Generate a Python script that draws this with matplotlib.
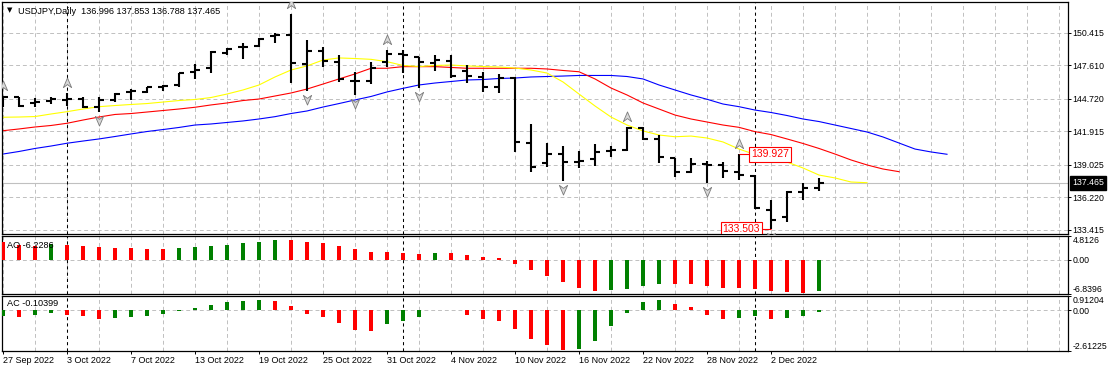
import numpy as np
import pandas as pd
import matplotlib
matplotlib.use('Agg')
import matplotlib.pyplot as plt
import matplotlib.transforms as mtransforms
from matplotlib.path import Path

plt.rcParams['font.family'] = ['Liberation Sans', 'DejaVu Sans']

symbol = 'USDJPY,Daily'

# daily OHLC, 27 Sep 2022 .. 7 Dec 2022
open_ = [144.70, 144.85, 144.36, 144.56, 144.64, 144.68, 144.04, 144.62, 145.33, 145.33,
         145.76, 145.91, 147.05, 147.35, 148.64, 149.16, 149.29, 150.16, 150.22, 147.69,
         148.86, 147.92, 146.25, 146.28, 147.86, 148.55, 148.30, 147.78, 148.00, 147.14,
         146.62, 145.76, 146.54, 140.94, 139.16, 139.94, 139.30, 139.51, 140.25, 140.31,
         142.23, 141.23, 139.59, 138.44, 139.10, 139.02, 138.44, 138.07, 135.14, 134.56,
         136.72, 136.996]
high = [144.99, 144.90, 144.76, 144.85, 145.19, 144.90, 144.85, 145.19, 145.54, 145.76,
        145.91, 146.97, 147.72, 148.86, 149.07, 149.50, 149.93, 150.36, 152.03, 149.79,
        149.21, 148.49, 147.05, 147.86, 148.92, 148.92, 148.35, 148.49, 148.49, 147.63,
        147.05, 146.86, 146.62, 142.55, 140.89, 140.65, 140.25, 140.80, 140.65, 142.26,
        142.26, 141.60, 139.59, 139.64, 139.36, 139.30, 139.927, 138.15, 136.00, 136.80,
        137.49, 137.853]
low = [144.04, 143.99, 144.04, 144.27, 144.10, 143.90, 143.56, 144.47, 144.62, 145.25,
       145.39, 145.71, 146.45, 146.97, 148.49, 148.17, 149.16, 149.55, 146.06, 145.42,
       147.49, 146.19, 145.05, 146.00, 147.49, 146.97, 145.65, 147.14, 146.54, 146.11,
       145.33, 145.19, 140.16, 138.44, 138.87, 137.66, 138.73, 138.93, 139.68, 140.25,
       141.17, 139.16, 138.01, 138.35, 137.49, 137.87, 137.72, 135.20, 133.503, 134.13,
       136.00, 136.788]
close = [144.85, 144.10, 144.44, 144.73, 144.70, 143.99, 144.62, 145.11, 145.39, 145.71,
         145.82, 146.92, 147.20, 148.78, 149.01, 149.21, 149.87, 150.22, 147.83, 148.86,
         147.98, 146.45, 146.25, 147.35, 148.58, 148.52, 147.92, 148.06, 146.68, 146.68,
         145.76, 146.54, 141.02, 138.87, 139.94, 139.30, 139.39, 140.16, 140.31, 142.23,
         141.23, 139.68, 138.44, 139.10, 139.04, 138.52, 138.15, 135.29, 134.28, 136.72,
         137.01, 137.465]

# alligator lines (already shifted forward, so they run past the last bar)
lips = [143.13, 143.15, 143.19, 143.41, 143.61, 143.84, 144.04, 144.14, 144.23, 144.31,
        144.44, 144.57, 144.66, 144.83, 145.13, 145.48, 145.91, 146.60, 147.20, 147.55,
        148.06, 148.24, 148.19, 148.12, 147.92, 147.59, 147.50, 147.59, 147.63, 147.55,
        147.50, 147.46, 147.37, 147.20, 146.94, 146.17, 145.13, 144.10, 143.15, 142.46,
        141.95, 141.60, 141.45, 141.51, 141.34, 141.00, 140.39, 139.92, 139.62, 139.27,
        138.76, 138.15, 137.90, 137.55, 137.49]
teeth = [141.97, 142.12, 142.29, 142.42, 142.61, 142.89, 143.15, 143.37, 143.45, 143.58,
         143.71, 143.84, 143.99, 144.19, 144.36, 144.57, 144.70, 144.96, 145.22, 145.56,
         145.99, 146.43, 146.86, 147.35, 147.35, 147.49, 147.49, 147.49, 147.42, 147.35,
         147.35, 147.35, 147.35, 147.35, 147.29, 147.16, 147.05, 146.43, 145.65, 145.05,
         144.36, 143.84, 143.32, 142.98, 142.72, 142.46, 142.26, 141.89, 141.64, 141.26,
         140.87, 140.44, 139.96, 139.45, 139.02, 138.67, 138.44]
jaw = [139.96, 140.18, 140.44, 140.65, 140.89, 141.08, 141.26, 141.47, 141.69, 141.90,
       142.07, 142.25, 142.46, 142.55, 142.68, 142.81, 142.98, 143.18, 143.45, 143.67,
       144.01, 144.31, 144.62, 144.92, 145.31, 145.62, 145.91, 146.08, 146.21, 146.34,
       146.38, 146.47, 146.51, 146.60, 146.64, 146.68, 146.73, 146.73, 146.73, 146.64,
       146.43, 145.91, 145.48, 145.05, 144.68, 144.27, 144.04, 143.75, 143.54, 143.28,
       142.98, 142.76, 142.46, 142.16, 141.86, 141.43, 140.91, 140.39, 140.14, 139.94]

fractal_up = [0, 4, 18, 24, 39, 46]
fractal_down = [6, 19, 22, 26, 35, 44, 48]

# bars carrying the price-label objects
label_high_bar = 46
label_low_bar = 48

ao = [3.53, 2.95, 2.85, 3.21, 3.10, 2.89, 2.69, 2.50, 2.31, 2.28,
      2.25, 2.35, 2.57, 2.89, 3.08, 3.40, 3.66, 4.04, 4.00, 3.66,
      3.47, 2.89, 2.12, 1.54, 1.50, 1.35, 1.15, 1.35, 1.30, 0.96,
      0.58, 0.38, -0.74, -1.94, -3.15, -4.45, -5.68, -6.29, -6.09, -5.88,
      -5.27, -4.86, -4.90, -4.92, -5.27, -5.68, -5.70, -5.88, -6.29, -6.45,
      -6.55, -6.2286]
ac = [-0.37, -0.44, -0.33, -0.20, -0.29, -0.37, -0.53, -0.50, -0.44, -0.40,
      -0.26, -0.05, 0.16, 0.36, 0.51, 0.57, 0.63, 0.56, 0.30, -0.26,
      -0.46, -0.79, -1.25, -1.32, -0.86, -0.66, -0.46, 0.02, 0.03, -0.33,
      -0.59, -0.72, -1.19, -1.84, -2.24, -2.55, -2.50, -1.95, -1.03, -0.15,
      0.55, 0.67, 0.43, 0.18, -0.31, -0.57, -0.50, -0.37, -0.57, -0.50,
      -0.37, -0.10399]

price_ticks = [133.415, 136.220, 139.025, 141.915, 144.720, 147.610, 150.415]
ao_scale = [-6.8396, 0.0, 4.8126]
ac_scale = [-2.61225, 0.0, 0.91204]

open_, high, low, close = map(np.array, (open_, high, low, close))
n = len(close)
idx = np.arange(n)
dates = pd.bdate_range('2022-09-27', periods=n)
month_starts = [i for i in range(1, n) if dates[i].month != dates[i - 1].month]

W, H = 1114, 372
GRID = '#c0c0c0'
RED, GREEN = '#ff0000', '#008000'
FS = 6.3


def px_rect(x0, y0, x1, y1):
    return [x0 / W, 1 - y1 / H, (x1 - x0) / W, (y1 - y0) / H]


fig = plt.figure(figsize=(W / 100, H / 100), dpi=100)
ax = fig.add_axes(px_rect(2, 2, 1068, 234))
ax_ao = fig.add_axes(px_rect(2, 236, 1068, 294))
ax_ac = fig.add_axes(px_rect(2, 296, 1068, 351))

for a in (ax, ax_ao, ax_ac):
    a.set_xlim(-0.0625, 66.5625)
    a.set_axisbelow(True)
    a.set_xticks(np.arange(0, 67, 2), minor=True)
    a.grid(which='minor', axis='x', color=GRID, ls=(0, (4, 3)), lw=0.7)
    a.grid(which='major', axis='y', color=GRID, ls=(0, (4, 3)), lw=0.7)
    a.tick_params(which='minor', length=0)
    a.yaxis.tick_right()
    a.tick_params(axis='y', length=2.2, width=0.7, pad=1, labelsize=FS)
    for s in a.spines.values():
        s.set_linewidth(0.9)
    for m in month_starts:
        a.axvline(m, color='black', ls=(0, (3, 3)), lw=0.75, zorder=1.5)
ax.set_xticks([])
ax_ao.set_xticks([])

# main price window
ax.set_ylim(133.07, 153.06)
ax.set_yticks(price_ticks, [f'{p:.3f}' for p in price_ticks])
ax.axhline(close[-1], color=GRID, lw=0.8, zorder=1)

ax.plot(np.arange(len(jaw)), jaw, color='#0000ff', lw=0.8, zorder=2)
ax.plot(np.arange(len(teeth)), teeth, color=RED, lw=0.8, zorder=2)
ax.plot(np.arange(len(lips)), lips, color='#ffff00', lw=0.8, zorder=2)

ax.vlines(idx, low, high, color='black', lw=1.5, zorder=3)
ax.hlines(open_, idx - 0.3, idx, color='black', lw=1.5, zorder=3)
ax.hlines(close, idx, idx + 0.3, color='black', lw=1.5, zorder=3)

up_path = Path([(0, 1), (0.75, -0.75), (0, -0.2), (-0.75, -0.75), (0, 1)],
               [Path.MOVETO, Path.LINETO, Path.LINETO, Path.LINETO, Path.CLOSEPOLY])
dn_path = Path([(0, -1), (0.75, 0.75), (0, 0.2), (-0.75, 0.75), (0, -1)],
               [Path.MOVETO, Path.LINETO, Path.LINETO, Path.LINETO, Path.CLOSEPOLY])
up_tr = ax.transData + mtransforms.ScaledTranslation(0, 0.10, fig.dpi_scale_trans)
dn_tr = ax.transData + mtransforms.ScaledTranslation(0, -0.08, fig.dpi_scale_trans)
ax.plot(fractal_up, high[fractal_up], ls='none', marker=up_path, ms=8,
        mfc='#d8d8d8', mec='#7a7a7a', mew=0.6, transform=up_tr, zorder=4)
ax.plot(fractal_down, low[fractal_down], ls='none', marker=dn_path, ms=8,
        mfc='#d8d8d8', mec='#7a7a7a', mew=0.6, transform=dn_tr, zorder=4)

# high / low price labels
hi_i, lo_i = label_high_bar, label_low_bar
box = dict(boxstyle='square,pad=0.2', fc='white', ec=RED, lw=0.8)
ax.hlines(high[hi_i], hi_i, hi_i + 0.75, color=RED, lw=0.8, zorder=4)
ax.text(hi_i + 0.78, high[hi_i], f'{high[hi_i]:.3f}', ha='left', va='center',
        color=RED, fontsize=7.5, bbox=box, zorder=5)
ax.hlines(low[lo_i], lo_i - 0.65, lo_i, color=RED, lw=0.8, zorder=4)
ax.text(lo_i - 0.68, low[lo_i], f'{low[lo_i]:.3f}', ha='right', va='center',
        color=RED, fontsize=7.5, bbox=box, zorder=5, clip_on=True)

# current price marker on the scale
ax.text(1.0 + 4 / 1066, close[-1], f'{close[-1]:.3f}', ha='left', va='center',
        color='white', fontsize=FS,
        transform=mtransforms.blended_transform_factory(ax.transAxes, ax.transData),
        bbox=dict(boxstyle='square,pad=0.25', fc='black', ec='black'), clip_on=False)


def bar_colors(vals, first):
    cols = [first]
    for i in range(1, len(vals)):
        cols.append(GREEN if vals[i] > vals[i - 1] else RED)
    return cols


ax_ao.bar(idx, ao, width=0.19, color=bar_colors(ao, RED), zorder=3)
ax_ao.set_ylim(ao_scale[0], ao_scale[-1])
ax_ao.set_yticks(ao_scale, ['-6.8396', '0.00', '4.8126'])

ax_ac.bar(idx, ac, width=0.19, color=bar_colors(ac, GREEN), zorder=3)
ax_ac.set_ylim(ac_scale[0], ac_scale[-1])
ax_ac.set_yticks(ac_scale, ['-2.61225', '0.00', '0.91204'])

for a in (ax_ao, ax_ac):
    lbls = a.yaxis.get_majorticklabels()
    lbls[0].set_va('bottom')
    lbls[-1].set_va('top')

ax_ac.set_xticks(idx[::4], [f'{d.day} {d:%b %Y}' for d in dates[::4]])
ax_ac.tick_params(axis='x', which='major', length=2.2, width=0.7, pad=1.5, labelsize=6.5)
for t in ax_ac.get_xticklabels():
    t.set_ha('left')

# window captions
fig.text(7 / W, 1 - 10 / H, '\u25bc', fontsize=5, family='DejaVu Sans', va='center')
fig.text(18 / W, 1 - 11 / H,
         f'{symbol}  {open_[-1]:.3f} {high[-1]:.3f} {low[-1]:.3f} {close[-1]:.3f}',
         fontsize=6.6, va='center')
fig.text(7 / W, 1 - 245 / H, f'AO {ao[-1]:.4f}', fontsize=6.6, va='center')
fig.text(7 / W, 1 - 304 / H, f'AC {ac[-1]:.5f}', fontsize=6.6, va='center')

fig.savefig('out.png', dpi=100, facecolor='white')
